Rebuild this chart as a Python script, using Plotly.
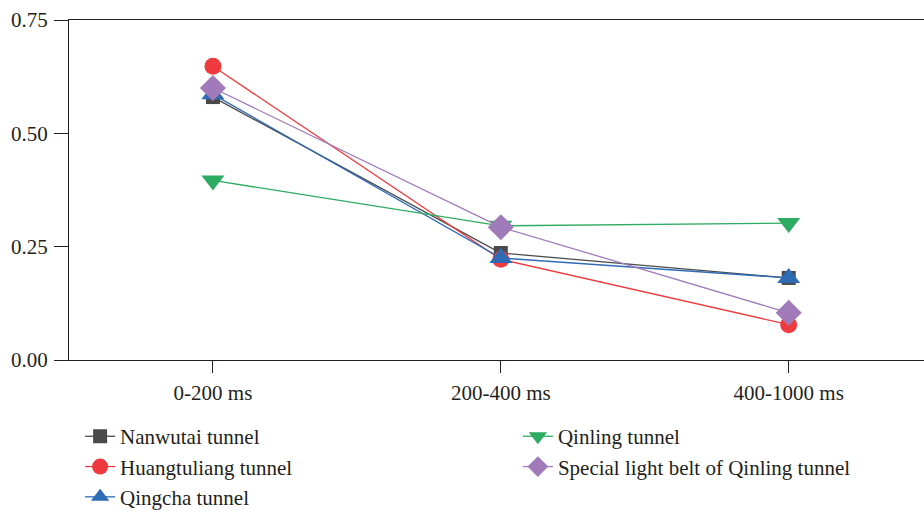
import plotly.graph_objects as go

categories = ["0-200 ms", "200-400 ms", "400-1000 ms"]
nanwutai = [0.580, 0.236, 0.181]
huangtuliang = [0.648, 0.222, 0.078]
qingcha = [0.586, 0.225, 0.181]
qinling = [0.396, 0.296, 0.302]
special = [0.600, 0.293, 0.104]
y_ticks = [0.0, 0.25, 0.5, 0.75]
y_tick_labels = ["0.00", "0.25", "0.50", "0.75"]

series = [
    ("Nanwutai tunnel", nanwutai, "#4a4a4a", "square", 14, "legend", 1),
    ("Huangtuliang tunnel", huangtuliang, "#ef3b3f", "circle", 17, "legend", 2),
    ("Qingcha tunnel", qingcha, "#2f6bb5", "triangle-up", 20, "legend", 3),
    ("Qinling tunnel", qinling, "#2eab63", "triangle-down", 20, "legend2", 4),
    ("Special light belt of Qinling tunnel", special, "#a07ab9", "diamond", 20, "legend2", 5),
]

fig = go.Figure()
for name, vals, color, sym, size, leg, rank in series:
    fig.add_trace(go.Scatter(
        x=list(range(len(categories))), y=vals, name=name, mode="lines+markers",
        line=dict(color=color, width=1.3),
        marker=dict(symbol=sym, size=size, color=color),
        legend=leg, legendgroup=name, legendrank=rank,
    ))

font = dict(family="Liberation Serif, Times New Roman, serif", size=21, color="#231f20")
fig.update_layout(
    width=924, height=515,
    margin=dict(l=69, r=0, t=20, b=155, autoexpand=False),
    plot_bgcolor="white", paper_bgcolor="white",
    font=font,
    showlegend=True,
    legend=dict(x=0.013, y=-0.165, xanchor="left", yanchor="top",
                orientation="v", tracegroupgap=0, font=font, bgcolor="rgba(0,0,0,0)"),
    legend2=dict(x=0.525, y=-0.165, xanchor="left", yanchor="top",
                 orientation="v", tracegroupgap=0, font=font, bgcolor="rgba(0,0,0,0)"),
)
fig.update_xaxes(
    range=[-0.5, 2.47], tickmode="array", tickvals=list(range(len(categories))),
    ticktext=categories, showline=True, linecolor="#231f20", linewidth=1.3,
    mirror=True, ticks="outside", ticklen=12, tickcolor="#231f20", tickwidth=1.3,
    showgrid=False, zeroline=False, ticklabelstandoff=2,
)
fig.update_yaxes(
    range=[0, 0.75], tickmode="array", tickvals=y_ticks, ticktext=y_tick_labels,
    showline=True, linecolor="#231f20", linewidth=1.3,
    ticks="outside", ticklen=14, tickcolor="#231f20", tickwidth=1.3,
    showgrid=False, zeroline=False, ticklabelstandoff=2,
)
fig.write_html("out.html")
